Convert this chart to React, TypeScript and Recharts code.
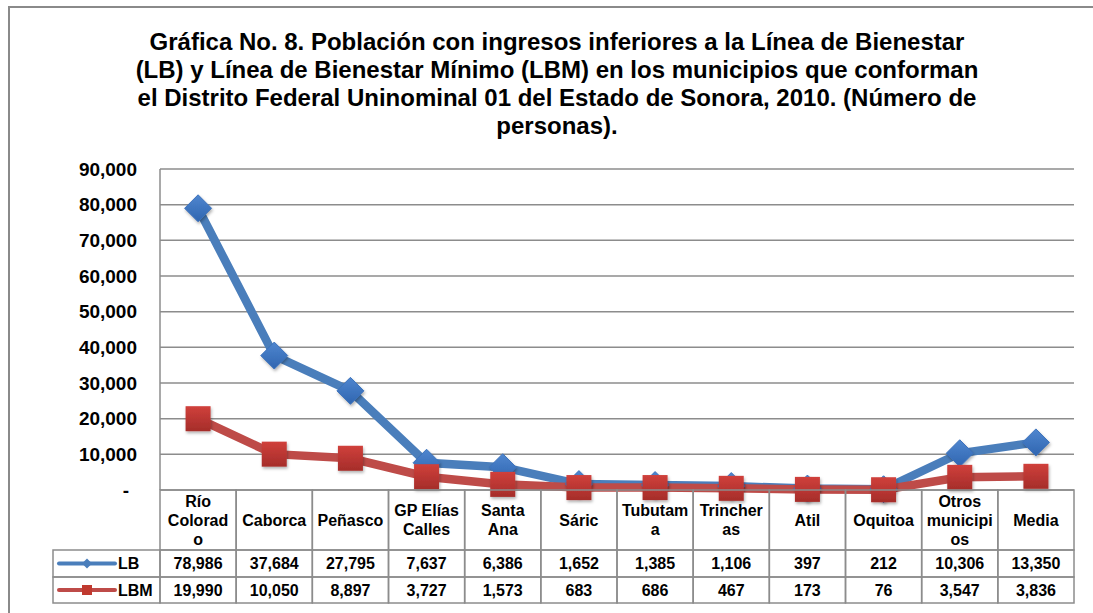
import React from 'react'
import { ComposedChart, Line, XAxis, YAxis, CartesianGrid } from 'recharts'

const categories = [
  'Río Colorado', 'Caborca', 'Peñasco', 'GP Elías Calles', 'Santa Ana', 'Sáric',
  'Tubutama', 'Trincheras', 'Atil', 'Oquitoa', 'Otros municipios', 'Media',
]
// how the names wrap inside the data table header cells
const headerLines = [
  'Río\nColorad\no', 'Caborca', 'Peñasco', 'GP Elías\nCalles', 'Santa\nAna', 'Sáric',
  'Tubutam\na', 'Trincher\nas', 'Atil', 'Oquitoa', 'Otros\nmunicipi\nos', 'Media',
]
const lbValues = [78986, 37684, 27795, 7637, 6386, 1652, 1385, 1106, 397, 212, 10306, 13350]
const lbmValues = [19990, 10050, 8897, 3727, 1573, 683, 686, 467, 173, 76, 3547, 3836]
const yTicks = [0, 10000, 20000, 30000, 40000, 50000, 60000, 70000, 80000, 90000]

const titleLines = [
  'Gráfica No. 8. Población con ingresos inferiores a la Línea de Bienestar',
  '(LB) y Línea de Bienestar Mínimo (LBM) en los municipios que conforman',
  'el Distrito Federal Uninominal 01 del Estado de Sonora, 2010. (Número de',
  'personas).',
]

const data = categories.map((name, i) => ({ name, lb: lbValues[i], lbm: lbmValues[i] }))

const FONT = '"Liberation Sans", Arial, sans-serif'
const GRID = '#8c8c8c'
const BLUE = '#4a7ebb'
const RED = '#be4b48'

const W = 1093
const H = 613
const PLOT_LEFT = 160
const PLOT_RIGHT = 1074
const COL_W = (PLOT_RIGHT - PLOT_LEFT) / categories.length

const fmt = (v: number) => v.toLocaleString('en-US')

function Diamond({ cx, cy }: any) {
  if (cx == null || cy == null) return null
  const r = 13.5
  return (
    <path
      d={`M${cx},${cy - r} L${cx + r},${cy} L${cx},${cy + r} L${cx - r},${cy} Z`}
      fill="url(#blueGrad)"
      stroke="#3d72bb"
      strokeWidth={1}
      strokeLinejoin="round"
      filter="url(#mshadow)"
    />
  )
}

function Square({ cx, cy }: any) {
  if (cx == null || cy == null) return null
  const s = 25
  return (
    <rect x={cx - s / 2} y={cy - s / 2} width={s} height={s} fill="url(#redGrad)" filter="url(#mshadow)" />
  )
}

function YTick({ x, y, payload }: any) {
  const v = payload.value
  return (
    <text
      x={v === 0 ? x - 8 : x}
      y={y}
      textAnchor="end"
      dominantBaseline="central"
      fontFamily={FONT}
      fontSize={19}
      fontWeight="bold"
      fill="#000"
    >
      {v === 0 ? '-' : fmt(v)}
    </text>
  )
}

// each x tick draws its column of the data table under the plot
function TableTick({ x, y, payload, index }: any) {
  const i = payload.index ?? index
  const left = x - COL_W / 2
  const headTop = y
  const headH = 60
  const lbTop = headTop + headH
  const rowH = 27
  const lbmTop = lbTop + rowH
  const lbmH = 26
  const lines = headerLines[i].split('\n')
  const txt = { fontFamily: FONT, fontWeight: 'bold' as const, fill: '#000' }
  const legendLeft = 53
  return (
    <g>
      <rect x={left} y={headTop} width={COL_W} height={headH} fill="none" stroke={GRID} strokeWidth={1.5} />
      <rect x={left} y={lbTop} width={COL_W} height={rowH} fill="none" stroke={GRID} strokeWidth={1.5} />
      <rect x={left} y={lbmTop} width={COL_W} height={lbmH} fill="none" stroke={GRID} strokeWidth={1.5} />
      {lines.map((ln, k) => (
        <text
          key={k}
          x={x}
          y={headTop + 30 + (k - (lines.length - 1) / 2) * 19}
          textAnchor="middle"
          dominantBaseline="central"
          fontSize={16}
          {...txt}
        >
          {ln}
        </text>
      ))}
      <text x={x} y={lbTop + rowH / 2} textAnchor="middle" dominantBaseline="central" fontSize={16} {...txt}>
        {fmt(lbValues[i])}
      </text>
      <text x={x} y={lbmTop + lbmH / 2} textAnchor="middle" dominantBaseline="central" fontSize={16} {...txt}>
        {fmt(lbmValues[i])}
      </text>
      {i === 0 && (
        <g>
          <rect x={legendLeft} y={lbTop} width={left - legendLeft} height={rowH} fill="none" stroke={GRID} strokeWidth={1.5} />
          <rect x={legendLeft} y={lbmTop} width={left - legendLeft} height={lbmH} fill="none" stroke={GRID} strokeWidth={1.5} />
          <line x1={59} x2={115} y1={lbTop + rowH / 2} y2={lbTop + rowH / 2} stroke={BLUE} strokeWidth={4} strokeLinecap="round" />
          <path
            d={`M87,${lbTop + rowH / 2 - 5} L92,${lbTop + rowH / 2} L87,${lbTop + rowH / 2 + 5} L82,${lbTop + rowH / 2} Z`}
            fill={BLUE}
          />
          <text x={118} y={lbTop + rowH / 2} dominantBaseline="central" fontSize={16} {...txt}>LB</text>
          <line x1={59} x2={115} y1={lbmTop + lbmH / 2} y2={lbmTop + lbmH / 2} stroke={RED} strokeWidth={4} strokeLinecap="round" />
          <rect x={82} y={lbmTop + lbmH / 2 - 5} width={10} height={10} fill="#c0392f" />
          <text x={118} y={lbmTop + lbmH / 2} dominantBaseline="central" fontSize={16} {...txt}>LBM</text>
        </g>
      )}
    </g>
  )
}

export default function App() {
  return (
    <div style={{ position: 'absolute', left: 0, top: 0, width: W, height: H, background: '#fff', overflow: 'hidden' }}>
      <div
        style={{
          position: 'absolute',
          left: 8,
          top: 6,
          width: W,
          height: H,
          borderLeft: '2px solid #8a8a8a',
          borderTop: '2px solid #8a8a8a',
        }}
      />
      <div
        style={{
          position: 'absolute',
          left: 57,
          top: 28,
          width: 1000,
          textAlign: 'center',
          fontFamily: FONT,
          fontWeight: 'bold',
          fontSize: 24,
          lineHeight: '28px',
          color: '#000',
        }}
      >
        {titleLines.map((t, i) => (
          <div key={i} style={{ whiteSpace: 'nowrap' }}>{t}</div>
        ))}
      </div>
      <div style={{ position: 'absolute', left: 0, top: 0 }}>
        <ComposedChart width={W} height={H} data={data} margin={{ top: 169, right: W - PLOT_RIGHT, bottom: 0, left: 0 }}>
          <defs>
            <linearGradient id="blueGrad" x1="0" y1="0" x2="0" y2="1">
              <stop offset="0%" stopColor="#4f86cf" />
              <stop offset="100%" stopColor="#2f65b0" />
            </linearGradient>
            <linearGradient id="redGrad" x1="0" y1="0" x2="0" y2="1">
              <stop offset="0%" stopColor="#d0403b" />
              <stop offset="100%" stopColor="#a52d2a" />
            </linearGradient>
            <filter id="mshadow" x="-50%" y="-50%" width="200%" height="200%">
              <feDropShadow dx="1" dy="2" stdDeviation="1.5" floodColor="#000" floodOpacity="0.3" />
            </filter>
          </defs>
          <CartesianGrid vertical={false} stroke={GRID} strokeWidth={1.5} />
          <XAxis
            dataKey="name"
            scale="band"
            interval={0}
            height={H - 490}
            tickSize={0}
            tickMargin={0}
            axisLine={false}
            tickLine={false}
            tick={<TableTick />}
          />
          <YAxis
            width={PLOT_LEFT}
            domain={[0, 90000]}
            ticks={yTicks}
            interval={0}
            tickLine={false}
            tickSize={6}
            tickMargin={17}
            axisLine={{ stroke: GRID, strokeWidth: 1.5 }}
            tick={<YTick />}
          />
          <Line
            dataKey="lb"
            stroke={BLUE}
            strokeWidth={8.5}
            dot={<Diamond />}
            activeDot={false}
            isAnimationActive={false}
          />
          <Line
            dataKey="lbm"
            stroke={RED}
            strokeWidth={8.5}
            dot={<Square />}
            activeDot={false}
            isAnimationActive={false}
          />
        </ComposedChart>
      </div>
    </div>
  )
}
